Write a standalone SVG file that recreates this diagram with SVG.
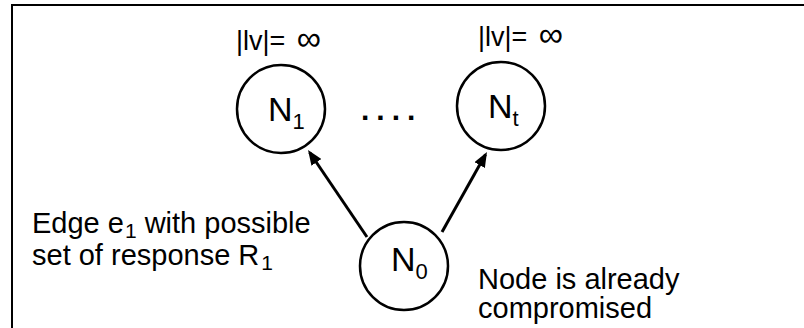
<svg xmlns="http://www.w3.org/2000/svg" width="804" height="328" viewBox="0 0 804 328">
  <defs>
    <style>
      .txt { font-family: "Liberation Sans", Arial, sans-serif; fill: #000; }
      .node circle { fill: #fff; stroke: #000; stroke-width: 2.5; }
      .lbl { font-size: 34px; }
      .sub { font-size: 22px; }
      .card { font-size: 27px; }
      .inf { font-size: 34px; }
      .note { font-size: 29px; }
      .nsub { font-size: 21px; }
      .edge { stroke: #000; stroke-width: 3; fill: none; marker-end: url(#head); }
    </style>
    <!-- arrowhead: 15px long, 12px wide at stroke-width 3 -->
    <marker id="head" markerWidth="5" markerHeight="4" refX="4" refY="2" orient="auto" markerUnits="strokeWidth">
      <path d="M0,0 L5,2 L0,4 z" fill="#000"/>
    </marker>
  </defs>

  <rect width="804" height="328" fill="#fff"/>
  <!-- frame (top and left edges) -->
  <path d="M12,328 V5 H804" fill="none" stroke="#000" stroke-width="2"/>

  <g id="connectors">
    <line class="edge" x1="367" y1="237" x2="309.7" y2="152.5"/>
    <line class="edge" x1="442" y1="232" x2="485.5" y2="154.6"/>
  </g>

  <g id="node-n1" class="node">
    <circle cx="281" cy="109" r="44"/>
    <text class="txt lbl" x="268" y="121">N<tspan class="sub" dy="8">1</tspan></text>
    <text class="txt card" x="236" y="50">|lv|=<tspan class="inf" dx="2"> ∞</tspan></text>
  </g>

  <g id="dots">
    <text class="txt" font-size="30" font-weight="bold" letter-spacing="7" x="361" y="120">....</text>
  </g>

  <g id="node-nt" class="node">
    <circle cx="501" cy="106" r="44"/>
    <text class="txt lbl" x="488" y="118">N<tspan class="sub" dy="8">t</tspan></text>
    <text class="txt card" x="478" y="46">|lv|=<tspan class="inf" dx="2"> ∞</tspan></text>
  </g>

  <g id="node-n0" class="node">
    <circle cx="404" cy="266" r="44"/>
    <text class="txt lbl" x="391" y="271">N<tspan class="sub" dy="8">0</tspan></text>
  </g>

  <g id="edge-note">
    <text class="txt note" x="32" y="233">Edge e<tspan class="nsub" dx="1" dy="5">1</tspan><tspan dy="-5"> with possible</tspan></text>
    <text class="txt note" x="32" y="265">set of response R<tspan class="nsub" dx="2" dy="5">1</tspan></text>
  </g>

  <g id="node-note">
    <text class="txt note" x="478" y="289">Node is already</text>
    <text class="txt note" x="478" y="318">compromised</text>
  </g>
</svg>
